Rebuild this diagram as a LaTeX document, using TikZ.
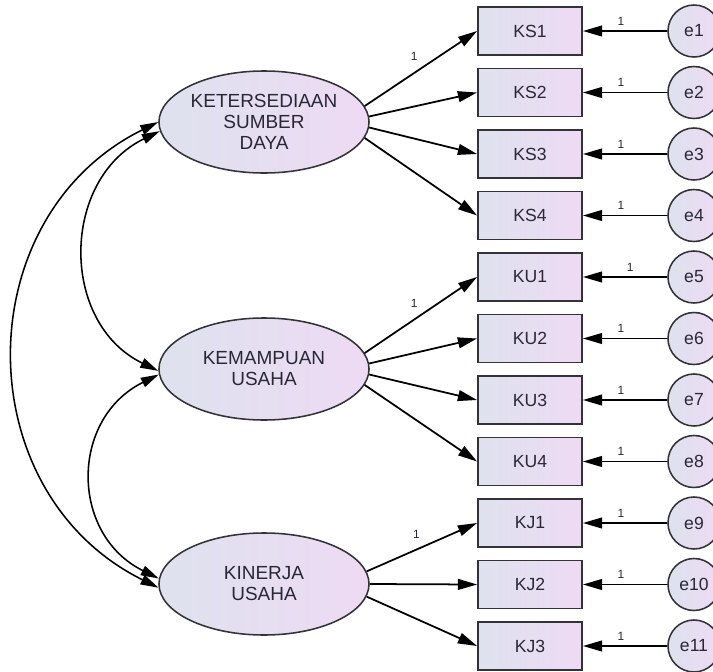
\documentclass[tikz,border=0pt]{standalone}
\usepackage{fontspec}
\setmainfont{Liberation Sans}
\usetikzlibrary{arrows.meta,shapes.geometric}
\definecolor{shadeL}{RGB}{222,226,238}
\definecolor{shadeR}{RGB}{238,218,244}
\definecolor{rim}{RGB}{50,50,55}
\definecolor{ink}{RGB}{40,40,55}
\tikzset{
  lat/.style={ellipse,draw=rim,line width=1.1pt,left color=shadeL,right color=shadeR,minimum width=5.25cm,minimum height=2.55cm,inner sep=0pt,align=center,text=ink,font=\fontsize{13.5}{15}\selectfont},
  obs/.style={rectangle,draw=rim,line width=1.3pt,left color=shadeL,right color=shadeR,minimum width=2.6cm,minimum height=1.2cm,inner sep=0pt,text=ink,font=\fontsize{12.5}{14}\selectfont},
  err/.style={circle,draw=rim,line width=1.1pt,left color=shadeL,right color=shadeR,minimum size=1.3cm,inner sep=0pt,text=ink,font=\fontsize{12.5}{14}\selectfont},
  load/.style={-{Triangle[length=0.48cm,width=0.27cm]},line width=1.25pt},
  cov/.style={{Triangle[length=0.45cm,width=0.25cm]}-{Triangle[length=0.45cm,width=0.25cm]},line width=1.1pt},
  one/.style={inner sep=1pt,text=ink,font=\fontsize{8.5}{9}\selectfont}
}
\begin{document}
\begin{tikzpicture}[x=0.025cm,y=-0.025cm]
  \useasboundingbox (0,0) rectangle (713,672);
  % latent variables
  \node[lat](ks)at(264,122){KETERSEDIAAN\\SUMBER\\DAYA};
  \node[lat](ku)at(264,369){KEMAMPUAN\\USAHA};
  \node[lat](kj)at(264,584){KINERJA\\USAHA};
  % indicators with their errors
  \foreach \lab/\p [count=\i from 0] in {KS1/0.55,KS2/0.55,KS3/0.55,KS4/0.55,KU1/0.44,KU2/0.55,KU3/0.55,KU4/0.55,KJ1/0.55,KJ2/0.55,KJ3/0.55}{
    \pgfmathtruncatemacro{\en}{\i+1}
    \node[obs](\lab)at(530,31+61.5*\i){\lab};
    \node[err](e\en)at(694,31+61.5*\i){e\en};
    \draw[load](e\en)--node[one,pos=\p,above=2.5pt]{1}(\lab);
  }
  % loadings
  \draw[load](ks.9)--node[one,pos=0.44,above=7pt]{1}(KS1.west);
  \draw[load](ks.3)--(KS2.west);
  \draw[load](ks.-3)--(KS3.west);
  \draw[load](ks.-9)--(KS4.west);
  \draw[load](ku.9)--node[one,pos=0.44,above=7pt]{1}(KU1.west);
  \draw[load](ku.3)--(KU2.west);
  \draw[load](ku.-3)--(KU3.west);
  \draw[load](ku.-9)--(KU4.west);
  \draw[load](kj.7)--node[one,pos=0.45,above=6pt]{1}(KJ1.west);
  \draw[load](kj.0)--(KJ2.west);
  \draw[load](kj.-7)--(KJ3.west);
  % covariances
  \draw[cov](ks.180).. controls +(-192,95) and +(-192,-95) ..(kj.-178);
  \draw[cov](ks.-175).. controls +(-99,48) and +(-99,-48) ..(ku.181);
  \draw[cov](ku.-177).. controls +(-89,44) and +(-89,-44) ..(kj.177);
\end{tikzpicture}
\end{document}
